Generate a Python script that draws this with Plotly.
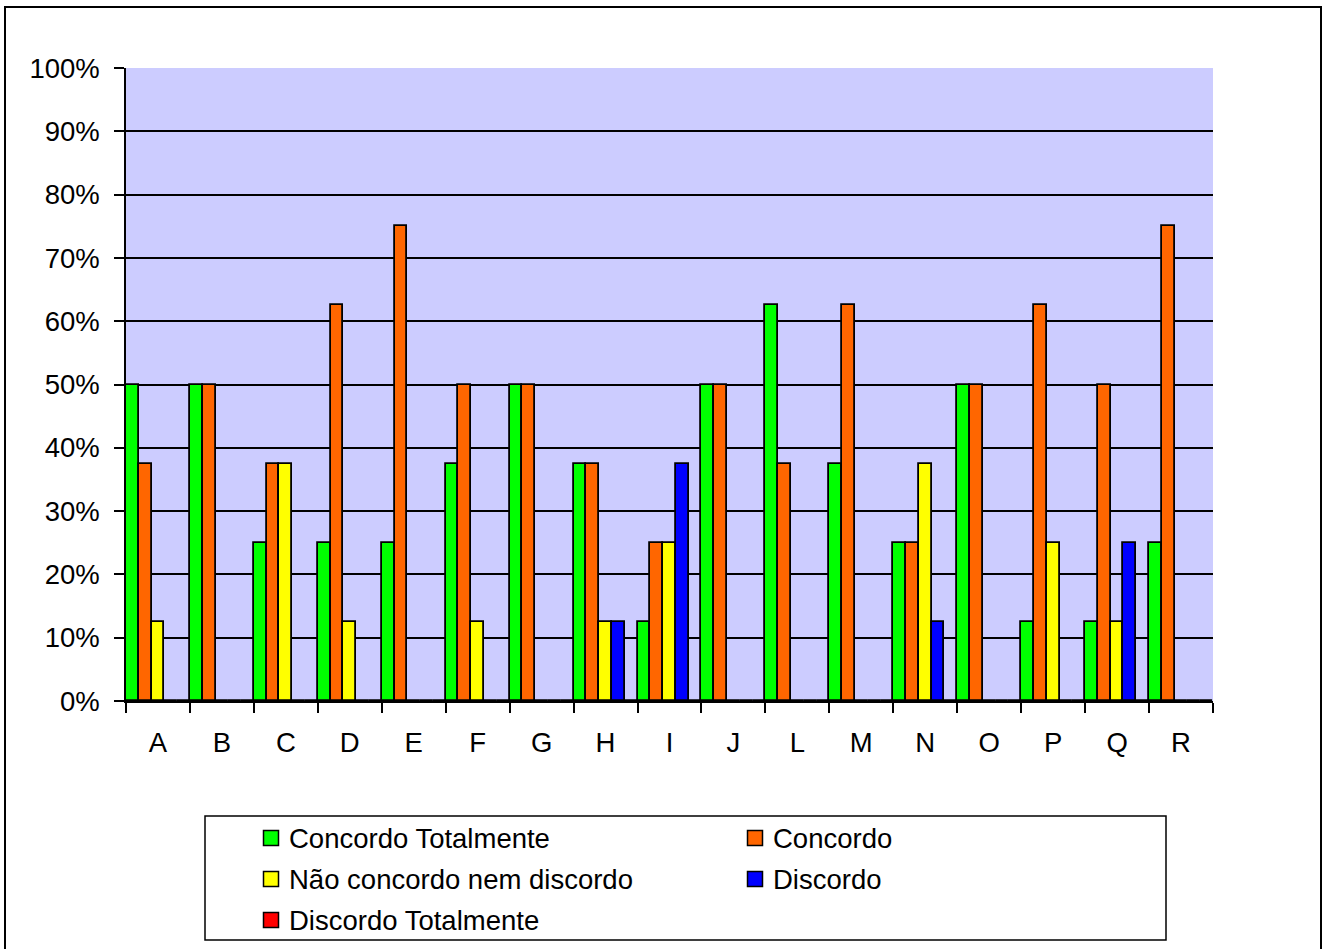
import plotly.graph_objects as go

# Survey answers per statement (share of respondents)
categories = ["A", "B", "C", "D", "E", "F", "G", "H", "I", "J", "L", "M", "N", "O", "P", "Q", "R"]
series_names = [
    "Concordo Totalmente",
    "Concordo",
    "Não concordo nem discordo",
    "Discordo",
    "Discordo Totalmente",
]
concordo_totalmente = [0.50, 0.50, 0.25, 0.25, 0.25, 0.375, 0.50, 0.375, 0.125, 0.50, 0.625, 0.375, 0.25, 0.50, 0.125, 0.125, 0.25]
concordo = [0.375, 0.50, 0.375, 0.625, 0.75, 0.50, 0.50, 0.375, 0.25, 0.50, 0.375, 0.625, 0.25, 0.50, 0.625, 0.50, 0.75]
neutro = [0.125, 0.0, 0.375, 0.125, 0.0, 0.125, 0.0, 0.125, 0.25, 0.0, 0.0, 0.0, 0.375, 0.0, 0.25, 0.125, 0.0]
discordo = [0.0, 0.0, 0.0, 0.0, 0.0, 0.0, 0.0, 0.125, 0.375, 0.0, 0.0, 0.0, 0.125, 0.0, 0.0, 0.25, 0.0]
discordo_totalmente = [0.0] * 17
series_values = [concordo_totalmente, concordo, neutro, discordo, discordo_totalmente]
series_colors = ["#00FF00", "#FF6600", "#FFFF00", "#0000FF", "#FF0000"]

W, H = 1325, 949
PL, PR, PT, PB = 126, 1213, 68, 701  # plot area in pixels
FONT = "Liberation Sans, Arial, sans-serif"
FSIZE = 27.5


def px_x(x):
    return (x - PL) / (PR - PL)


def px_y(y):
    return (PB - y) / (PB - PT)


fig = go.Figure()
for name, vals, col in zip(series_names, series_values, series_colors):
    fig.add_trace(go.Bar(
        x=categories, y=vals, name=name,
        marker=dict(color=col, line=dict(color="black", width=1.8)),
        showlegend=False,
    ))

shapes = []
annotations = []

# outer chart frame
shapes.append(dict(type="rect", xref="paper", yref="paper",
                   x0=px_x(5), x1=px_x(1321), y0=px_y(952), y1=px_y(7),
                   line=dict(color="black", width=2), fillcolor="rgba(0,0,0,0)", layer="below"))

# legend box
shapes.append(dict(type="rect", xref="paper", yref="paper",
                   x0=px_x(205), x1=px_x(1166), y0=px_y(940), y1=px_y(816),
                   line=dict(color="black", width=1.5), fillcolor="white", layer="below"))

legend_pos = [(271, 838), (755, 838), (271, 879), (755, 879), (271, 920)]
for (cx, cy), name, col in zip(legend_pos, series_names, series_colors):
    shapes.append(dict(type="rect", xref="paper", yref="paper",
                       x0=px_x(cx - 7.5), x1=px_x(cx + 7.5), y0=px_y(cy + 7.5), y1=px_y(cy - 7.5),
                       line=dict(color="black", width=1.5), fillcolor=col))
    annotations.append(dict(xref="paper", yref="paper", x=px_x(cx + 16), y=px_y(cy),
                            xanchor="left", yanchor="middle", showarrow=False, text=name,
                            font=dict(family=FONT, size=FSIZE, color="black")))

fig.update_layout(
    width=W, height=H, autosize=False,
    margin=dict(l=PL, r=W - PR, t=PT, b=H - PB, pad=0),
    paper_bgcolor="white", plot_bgcolor="#CCCCFF",
    barmode="group", bargap=0, bargroupgap=0,
    font=dict(family=FONT, size=FSIZE, color="black"),
    shapes=shapes, annotations=annotations,
)
fig.update_xaxes(
    type="category", showline=True, linecolor="black", linewidth=1.5,
    ticks="outside", tickson="boundaries", ticklen=10, tickwidth=1.5, tickcolor="black",
    ticklabelstandoff=16, showgrid=False, zeroline=False,
    tickfont=dict(family=FONT, size=FSIZE, color="black"),
)
fig.update_yaxes(
    range=[0, 1], dtick=0.1, tick0=0, tickformat=".0%",
    showline=True, linecolor="black", linewidth=1.5,
    ticks="outside", ticklen=10, tickwidth=1.5, tickcolor="black",
    ticklabelstandoff=9,
    showgrid=True, gridcolor="black", gridwidth=1.5, zeroline=False,
    tickfont=dict(family=FONT, size=FSIZE, color="black"),
)

fig.write_html("out.html")
